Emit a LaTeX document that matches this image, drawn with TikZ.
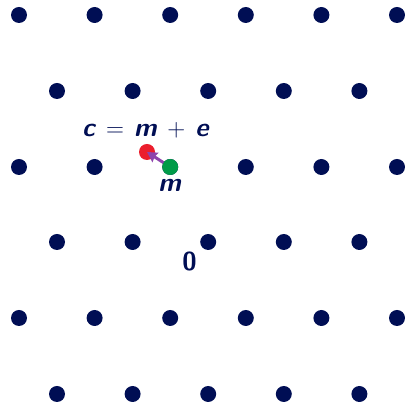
\documentclass[tikz,border=0pt]{standalone}
\usepackage{amsmath}
\usetikzlibrary{arrows.meta}
\definecolor{navy}{RGB}{0,14,84}
\definecolor{mgreen}{RGB}{0,155,72}
\definecolor{cred}{RGB}{235,30,45}
\definecolor{arrowpurple}{RGB}{142,68,173}
\newcommand{\sv}[1]{\textsf{\bfseries\slshape #1}}
\newcommand{\gapsp}{\hspace{10pt}}
\tikzset{
  dot/.style={circle,fill=navy,inner sep=0pt,minimum size=16pt},
  lbl/.style={text=navy,font=\fontsize{26}{30}\selectfont,inner sep=0pt}
}
\begin{document}
\begin{tikzpicture}[x=1pt,y=1pt]
\useasboundingbox (0,0) rectangle (405,403);
% even rows (6 dots)
\foreach \r/\yy in {0/15,2/167,4/318}{
  \foreach \c in {0,...,5}{
    \node[dot] (p-\r-\c) at ({19+75.6*\c},{403-\yy}) {};
  }
}
% odd rows (5 dots)
\foreach \r/\yy in {1/91,3/242,5/394}{
  \foreach \c in {0,...,4}{
    \node[dot] (p-\r-\c) at ({57+75.6*\c},{403-\yy}) {};
  }
}
\coordinate (mc) at (p-2-2);
\coordinate (cc) at (147,{403-152});
\node[dot,fill=cred] (c) at (cc) {};
\draw[arrowpurple,line width=3pt,-{Stealth[length=10pt,width=11pt,inset=1pt]}] (mc) -- (cc);
\node[dot,fill=mgreen] (m) at (mc) {};
\node[lbl] (mlabel) at (170,{403-185}) {\sv{m}};
\node[lbl] (eq) at (146,{403-130}) {\sv{c}\gapsp$=$\gapsp\sv{m}\gapsp$+$\gapsp\sv{e}};
\node[lbl] (zero) at (189.5,{403-261.5}) {\sffamily\bfseries 0};
\end{tikzpicture}
\end{document}
